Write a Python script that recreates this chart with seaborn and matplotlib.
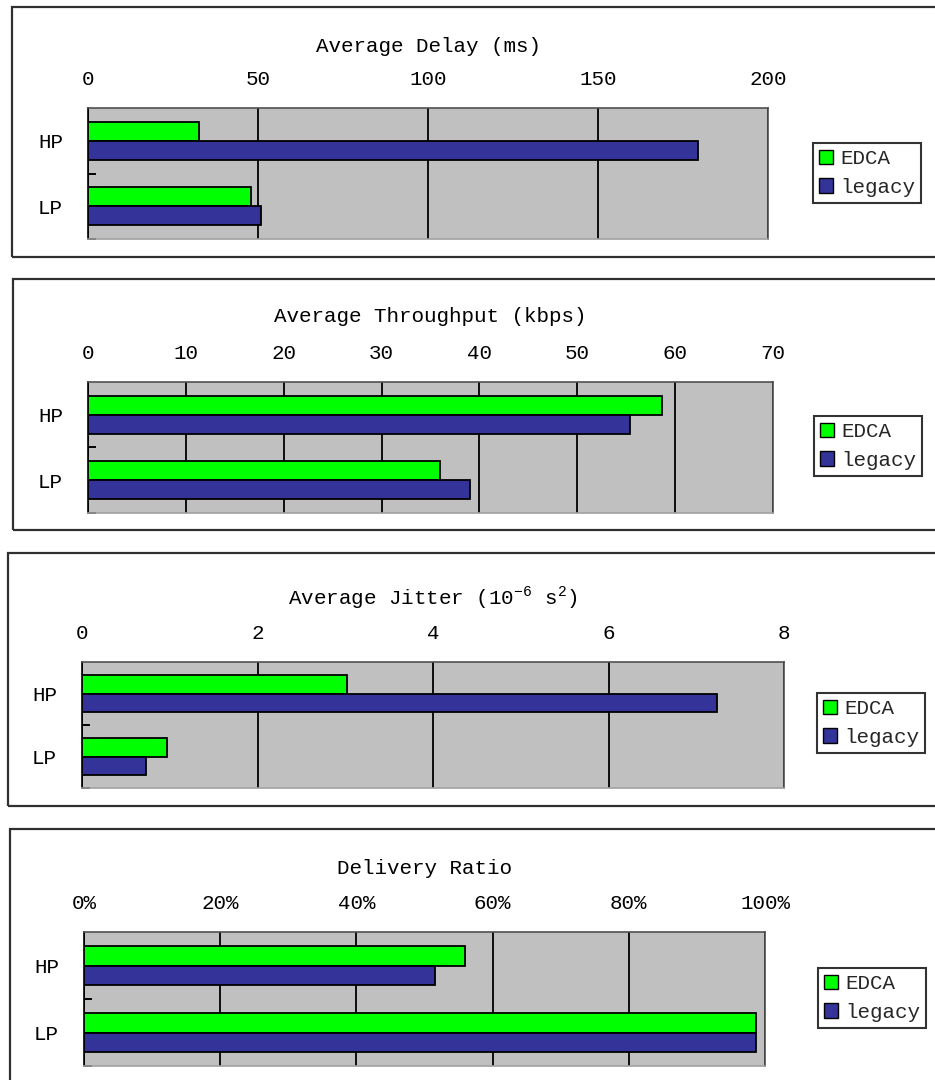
import numpy as np
import pandas as pd
import matplotlib
matplotlib.use("Agg")
import matplotlib.pyplot as plt
from matplotlib.patches import Patch, Rectangle
from matplotlib.ticker import FuncFormatter
import seaborn as sns

# ---- data -------------------------------------------------------------
classes = ["HP", "LP"]
schemes = ["EDCA", "legacy"]

delay_edca = [32.5, 47.9]
delay_legacy = [179.5, 50.8]

throughput_edca = [58.7, 36.0]
throughput_legacy = [55.4, 39.0]

jitter_edca = [3.02, 0.97]
jitter_legacy = [7.24, 0.73]

delivery_edca = [55.9, 98.7]
delivery_legacy = [51.5, 98.7]

titles = [
    "Average Delay (ms)",
    "Average Throughput (kbps)",
    r"Average Jitter (10$^{\mathregular{-6}}$ s$^{\mathregular{2}}$)",
    "Delivery Ratio",
]
axis_max = [200, 70, 8, 100]
axis_step = [50, 10, 2, 20]
series = [
    (delay_edca, delay_legacy),
    (throughput_edca, throughput_legacy),
    (jitter_edca, jitter_legacy),
    (delivery_edca, delivery_legacy),
]

# ---- style ------------------------------------------------------------
sns.set_theme(style="white")
plt.rcParams["font.family"] = ["Liberation Mono", "DejaVu Sans"]
plt.rcParams["mathtext.fontset"] = "custom"
plt.rcParams["mathtext.rm"] = "Liberation Mono"

GREEN = "#00FF00"
NAVY = "#333399"
PLOT_BG = "#C0C0C0"
FS = 15

W, H = 935, 1080
fig = plt.figure(figsize=(W / 100, H / 100), dpi=100)
fig.patch.set_facecolor("white")


def fx(px):
    return px / W


def fy(py):
    return 1 - py / H


# pixel layout of each panel: frame (left, top, bottom), plot (x0, x1, y0, y1),
# title centre y, legend (left, centre y)
layout = [
    dict(frame=(12, 7, 257), plot=(88, 768, 108, 239), title_y=46, leg=(813, 173)),
    dict(frame=(13, 279, 530), plot=(88, 773, 382, 513), title_y=317, leg=(814, 446)),
    dict(frame=(8, 553, 806), plot=(82, 784, 662, 788), title_y=598, leg=(817, 723)),
    dict(frame=(10, 829, 1100), plot=(84, 765, 932, 1066), title_y=868, leg=(818, 998)),
]

for i, (lay, title, xmax, step, (edca, legacy)) in enumerate(
    zip(layout, titles, axis_max, axis_step, series)
):
    fl, ft, fb = lay["frame"]
    fig.add_artist(
        Rectangle(
            (fx(fl), fy(fb)), fx(W + 20 - fl), (fb - ft) / H,
            transform=fig.transFigure, facecolor="none",
            edgecolor="#303030", linewidth=1.6, zorder=0,
        )
    )

    x0, x1, y0, y1 = lay["plot"]
    ax = fig.add_axes([fx(x0), fy(y1), (x1 - x0) / W, (y1 - y0) / H])
    ax.set_facecolor(PLOT_BG)

    df = pd.DataFrame({
        "class": classes * 2,
        "scheme": [schemes[0]] * 2 + [schemes[1]] * 2,
        "value": list(edca) + list(legacy),
    })
    sns.barplot(
        data=df, x="value", y="class", hue="scheme", orient="h",
        order=classes, hue_order=schemes, palette=[GREEN, NAVY],
        saturation=1, edgecolor="black", linewidth=1.3, width=0.58,
        gap=0, legend=False, ax=ax, zorder=3,
    )

    ax.set_xlim(0, xmax)
    ax.set_ylim(1.5, -0.5)
    ax.set_xticks(np.arange(0, xmax + step / 2, step))
    if i == 3:
        ax.xaxis.set_major_formatter(FuncFormatter(lambda v, p: f"{v:.0f}%"))
    ax.xaxis.tick_top()
    ax.tick_params(axis="x", length=0, pad=13.5, labelsize=FS, colors="black")
    ax.tick_params(axis="y", which="major", length=0, pad=18, labelsize=FS, colors="black")
    ax.set_yticks([0.5, 1.5], minor=True)
    ax.tick_params(axis="y", which="minor", direction="in", length=6, width=1.4,
                   color="black", left=True)
    ax.set_xlabel("")
    ax.set_ylabel("")

    ax.grid(axis="x", color="black", linewidth=1.3, zorder=1)
    ax.grid(axis="y", visible=False)
    ax.set_axisbelow(True)
    for side, sp in ax.spines.items():
        sp.set_visible(True)
        sp.set_linewidth(1.2)
        sp.set_color("#505050")
    ax.spines["left"].set_color("black")
    ax.spines["bottom"].set_color("#A0A0A0")

    fig.text(fx((x0 + x1) / 2), fy(lay["title_y"]), title, ha="center",
             va="center", fontsize=FS, color="black")

    handles = [Patch(facecolor=GREEN, edgecolor="black", linewidth=1.0),
               Patch(facecolor=NAVY, edgecolor="black", linewidth=1.0)]
    lx, ly = lay["leg"]
    leg = ax.legend(
        handles, schemes, loc="center left",
        bbox_to_anchor=(fx(lx), fy(ly)), bbox_transform=fig.transFigure,
        fontsize=FS, frameon=True, fancybox=False, shadow=False,
        handlelength=0.65, handleheight=0.7, handletextpad=0.35,
        labelspacing=0.45, borderpad=0.3, borderaxespad=0,
    )
    leg.get_frame().set_edgecolor("black")
    leg.get_frame().set_linewidth(1.5)
    leg.get_frame().set_facecolor("white")

fig.savefig("out.png", dpi=100, facecolor="white")
